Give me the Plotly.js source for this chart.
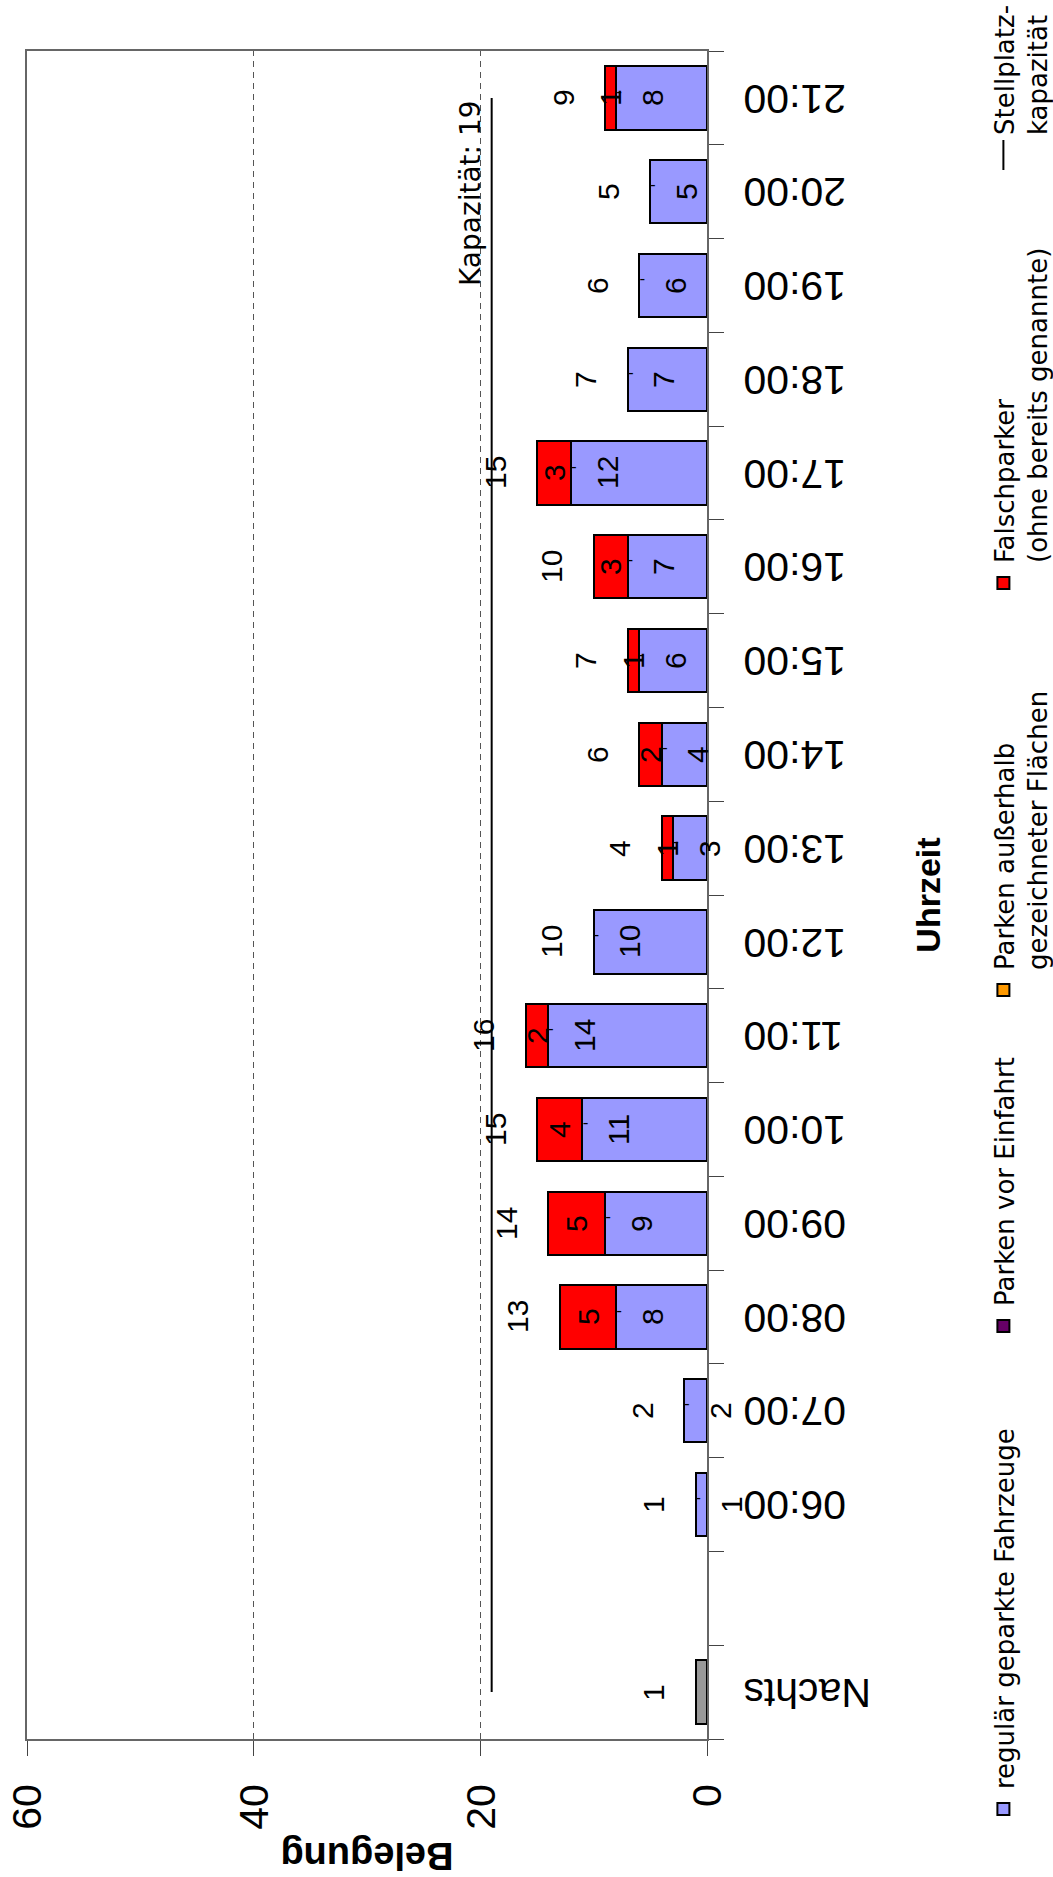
<!DOCTYPE html>
<html>
<head>
<meta charset="utf-8">
<script src="https://cdn.plot.ly/plotly-3.0.1.min.js"></script>
<style>
html, body { margin:0; padding:0; overflow:hidden; background:#fff; width:1053px; height:1877px; }
#wrap { position:absolute; left:0; top:0; width:1877px; height:1053px; transform-origin:0 0; transform:translateY(1877px) rotate(-90deg); }
</style>
</head>
<body>
<div id="wrap"></div>
<script>
// ---- data ----
const categories = ["Nachts", " ", "06:00", "07:00", "08:00", "09:00", "10:00", "11:00", "12:00",
                    "13:00", "14:00", "15:00", "16:00", "17:00", "18:00", "19:00", "20:00", "21:00"];
const nachts     = [1, null, null, null, null, null, null, null, null, null, null, null, null, null, null, null, null, null];
const regulaer   = [null, null, 1, 2, 8, 9, 11, 14, 10, 3, 4, 6, 7, 12, 7, 6, 5, 8];
const einfahrt   = [null, null, 0, 0, 0, 0, 0, 0, 0, 0, 0, 0, 0, 0, 0, 0, 0, 0];
const ausserhalb = [null, null, 0, 0, 0, 0, 0, 0, 0, 0, 0, 0, 0, 0, 0, 0, 0, 0];
const falsch     = [null, null, 0, 0, 5, 5, 4, 2, 0, 1, 2, 1, 3, 3, 0, 0, 0, 1];
const capacity   = 19;
const seriesNames = ["regulär geparkte Fahrzeuge", "Parken vor Einfahrt",
                     "Parken außerhalb<br>gezeichneter Flächen", "Falschparker<br>(ohne bereits genannte)",
                     "Stellplatz-<br>kapazität"];
const valueTicks = [0, 20, 40, 60];

// ---- geometry (original, unrotated chart) ----
const W = 1877, H = 1053;
const M = { l: 138, r: 51, t: 27, b: 346, autoexpand: false };
const PW = W - M.l - M.r, PH = H - M.t - M.b;
const px = X => (X - M.l) / PW;
const py = Y => (H - M.b - Y) / PH;

const SANS = 'Liberation Sans, Arial, sans-serif';
const DEJA = 'DejaVu Sans, sans-serif';
const tickFont = { family: SANS, size: 41, color: '#000' };
const labelFont = { family: SANS, size: 30, color: '#000' };
const legFont = { family: DEJA, size: 26, color: '#000' };
const edge = { color: '#000', width: 2 };

const traces = [
  { type: 'bar', x: categories, y: nachts, name: 'Nachts', showlegend: false,
    marker: { color: '#999999', line: edge } },
  { type: 'bar', x: categories, y: regulaer, name: seriesNames[0], legend: 'legend',
    marker: { color: '#9999FF', line: edge } },
  { type: 'bar', x: categories, y: einfahrt, name: seriesNames[1], legend: 'legend2',
    marker: { color: '#660066', line: edge } },
  { type: 'bar', x: categories, y: ausserhalb, name: seriesNames[2], legend: 'legend3',
    marker: { color: '#FF9900', line: edge } },
  { type: 'bar', x: categories, y: falsch, name: seriesNames[3], legend: 'legend4',
    marker: { color: '#FF0000', line: edge } },
  { type: 'scatter', mode: 'lines', x: categories, y: categories.map(() => capacity),
    name: seriesNames[4], legend: 'legend5', line: { color: '#000', width: 2 } }
];

const ann = [];
categories.forEach((c, i) => {
  const r = regulaer[i], f = falsch[i];
  const total = [nachts[i], r, einfahrt[i], ausserhalb[i], f].reduce((s, v) => s + (v || 0), 0);
  const base = { x: c, xref: 'x', yref: 'y', showarrow: false, font: labelFont };
  if (r != null) ann.push({ ...base, y: r, text: String(r), yshift: -36 });
  if (f) ann.push({ ...base, y: r + f / 2, text: String(f) });
  if (einfahrt[i] === 0) ann.push({ ...base, y: r, text: '-', textangle: 90, xshift: 7, yshift: -3,
                                    font: { family: SANS, size: 17, color: '#000' } });
  if (total > 0) ann.push({ ...base, y: total, text: String(total), yshift: 42 });
});
ann.push({ x: categories[categories.length - 1], y: capacity, xref: 'x', yref: 'y', showarrow: false,
           text: 'Kapazität: ' + capacity, xanchor: 'right', yanchor: 'bottom', yshift: 3,
           font: { family: DEJA, size: 28, color: '#000' } });

const legBase = { orientation: 'h', xanchor: 'left', yanchor: 'top', y: py(980), font: legFont,
                  valign: 'top', bgcolor: 'rgba(0,0,0,0)', itemwidth: 30 };
const textStarts = [93, 576, 912, 1319, 1747];

const layout = {
  width: W, height: H,
  margin: M,
  paper_bgcolor: '#fff', plot_bgcolor: '#fff',
  barmode: 'stack', bargap: 0.325,
  xaxis: {
    type: 'category', categoryorder: 'array', categoryarray: categories,
    range: [-0.5, categories.length - 0.5], tickson: 'boundaries',
    ticks: 'outside', ticklen: 15, tickwidth: 1, tickcolor: '#444',
    tickangle: -90, tickfont: tickFont, ticklabelstandoff: 18,
    showline: true, linecolor: '#666', linewidth: 2, mirror: true, showgrid: false,
    title: { text: 'Uhrzeit', font: { family: SANS, size: 34, weight: 'bold', color: '#000' }, standoff: 46 }
  },
  yaxis: {
    range: [0, 60], tickvals: valueTicks, ticktext: valueTicks.map(String),
    ticks: 'outside', ticklen: 15, tickwidth: 1, tickcolor: '#444',
    tickfont: tickFont, ticklabelstandoff: 20,
    showline: true, linecolor: '#666', linewidth: 2, mirror: true,
    showgrid: true, gridcolor: '#555', gridwidth: 1, griddash: '6px,5px', zeroline: false,
    title: { text: 'Belegung', font: { family: SANS, size: 38, weight: 'bold', color: '#000' }, standoff: 14 }
  },
  annotations: ann,
  showlegend: true,
  legend:  { ...legBase, x: px(textStarts[0] - 45) },
  legend2: { ...legBase, x: px(textStarts[1] - 45) },
  legend3: { ...legBase, x: px(textStarts[2] - 45) },
  legend4: { ...legBase, x: px(textStarts[3] - 45) },
  legend5: { ...legBase, x: px(textStarts[4] - 45) }
};

Plotly.newPlot('wrap', traces, layout, { staticPlot: true, displayModeBar: false });
</script>
</body>
</html>
